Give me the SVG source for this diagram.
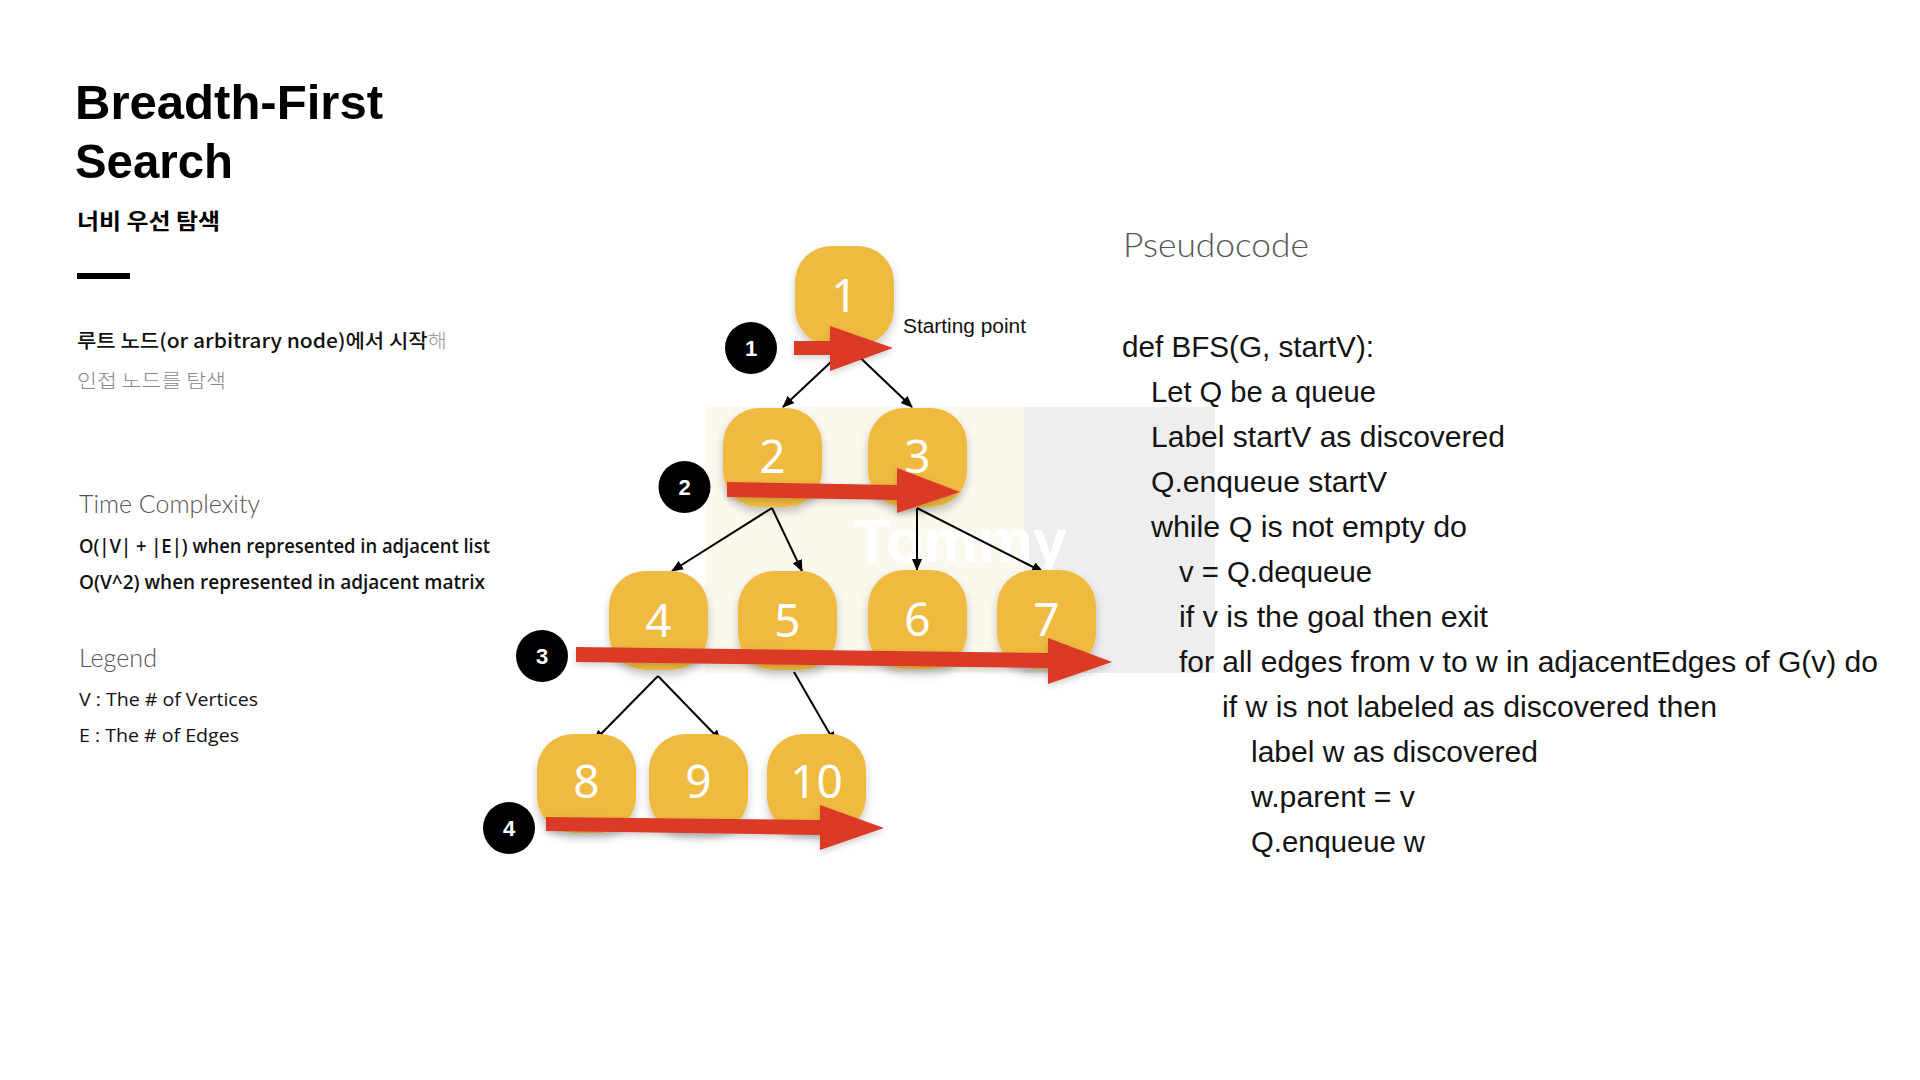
<svg xmlns="http://www.w3.org/2000/svg" width="1920" height="1080" viewBox="0 0 1920 1080">
<defs>
<style>
.node rect{fill:#EEBA41;filter:url(#sh);}
.node text{fill:#fff;font-family:"Noto Sans","Open Sans",sans-serif;font-size:46px;text-anchor:middle;}
.edge{stroke:#000;stroke-width:2;fill:none;marker-end:url(#ah);}
.red{fill:#DB3A26;filter:url(#sh2);}
.mk circle{fill:#000;}
.mk text{fill:#fff;font-family:"Liberation Sans",sans-serif;font-weight:bold;font-size:22px;text-anchor:middle;}
.code{font-family:"Liberation Sans",sans-serif;font-size:29px;fill:#141414;}
.light{font-family:"Lato","Roboto",sans-serif;font-weight:300;fill:#555;}
.semi{font-family:"Open Sans","Liberation Sans",sans-serif;font-weight:600;font-size:19px;fill:#111;}
.reg{font-family:"Open Sans","Liberation Sans",sans-serif;font-weight:400;font-size:19px;fill:#111;}
</style>
<filter id="sh" x="-30%" y="-30%" width="160%" height="170%">
<feDropShadow dx="0" dy="5" stdDeviation="4" flood-color="#000" flood-opacity="0.22"/>
</filter>
<filter id="sh2" x="-10%" y="-50%" width="120%" height="200%">
<feDropShadow dx="0" dy="3" stdDeviation="3" flood-color="#000" flood-opacity="0.18"/>
</filter>
<marker id="ah" markerUnits="userSpaceOnUse" markerWidth="12" markerHeight="10" refX="11" refY="5" orient="auto">
<path d="M0,0 L12,5 L0,10 z" fill="#000"/>
</marker>
</defs>
<rect width="1920" height="1080" fill="#fff"/>

<g id="left-panel">
<text x="75" y="119" font-family="Liberation Sans, sans-serif" font-weight="bold" font-size="49" fill="#000" textLength="308" lengthAdjust="spacingAndGlyphs">Breadth-First</text>
<text x="75" y="178" font-family="Liberation Sans, sans-serif" font-weight="bold" font-size="49" fill="#000" textLength="158" lengthAdjust="spacingAndGlyphs">Search</text>
<text x="77" y="229" font-family="Noto Sans CJK KR, sans-serif" font-weight="bold" font-size="22" fill="#000" textLength="143" lengthAdjust="spacingAndGlyphs">너비 우선 탐색</text>
<rect x="77" y="273" width="53" height="6" fill="#000"/>
<text x="77" y="348" font-family="Noto Sans CJK KR, sans-serif" font-size="19.5" textLength="370" lengthAdjust="spacingAndGlyphs"><tspan font-weight="500" fill="#111">루트 노드(or arbitrary node)에서 시작</tspan><tspan font-weight="300" fill="#999">해</tspan></text>
<text x="77" y="388" font-family="Noto Sans CJK KR, sans-serif" font-weight="300" font-size="19.5" fill="#888" textLength="149" lengthAdjust="spacingAndGlyphs">인접 노드를 탐색</text>
<text class="light" x="79" y="513" font-size="26" textLength="181" lengthAdjust="spacingAndGlyphs">Time Complexity</text>
<text class="semi" x="79" y="553" textLength="411" lengthAdjust="spacingAndGlyphs">O(|V| + |E|) when represented in adjacent list</text>
<text class="semi" x="79" y="589" textLength="406" lengthAdjust="spacingAndGlyphs">O(V^2) when represented in adjacent matrix</text>
<text class="light" x="79" y="667" font-size="26" textLength="78" lengthAdjust="spacingAndGlyphs">Legend</text>
<text class="reg" x="79" y="706" textLength="179" lengthAdjust="spacingAndGlyphs">V : The # of Vertices</text>
<text class="reg" x="79" y="742" textLength="160" lengthAdjust="spacingAndGlyphs">E : The # of Edges</text>
</g>

<g id="background">
<rect x="705" y="407" width="319" height="266" fill="#FBF8EE"/>
<rect x="1024" y="407" width="191" height="266" fill="#EEEEEE"/>
<text x="853" y="562" font-family="Liberation Sans, sans-serif" font-weight="bold" font-size="62" fill="#fff" textLength="214" lengthAdjust="spacingAndGlyphs">Tommy</text>
</g>

<g id="connectors">
<line class="edge" x1="848" y1="346" x2="783" y2="407"/>
<line class="edge" x1="848" y1="346" x2="912" y2="407"/>
<line class="edge" x1="772" y1="508" x2="672" y2="571"/>
<line class="edge" x1="772" y1="508" x2="802" y2="571"/>
<line class="edge" x1="917" y1="508" x2="917" y2="570"/>
<line class="edge" x1="917" y1="508" x2="1043" y2="572"/>
<line class="edge" x1="658" y1="676" x2="594" y2="741"/>
<line class="edge" x1="658" y1="676" x2="721" y2="741"/>
<line class="edge" x1="794" y1="672" x2="835" y2="743"/>
</g>

<g id="node-1" class="node"><rect x="795" y="246" width="99" height="99" rx="36"/><text x="844.5" y="312">1</text></g>
<g id="node-2" class="node"><rect x="723" y="408" width="99" height="99" rx="36"/><text x="772.5" y="473">2</text></g>
<g id="node-3" class="node"><rect x="868" y="408" width="99" height="99" rx="36"/><text x="917.5" y="473">3</text></g>
<g id="node-4" class="node"><rect x="609" y="571" width="99" height="99" rx="36"/><text x="658.5" y="637">4</text></g>
<g id="node-5" class="node"><rect x="738" y="571" width="99" height="99" rx="36"/><text x="787.5" y="637">5</text></g>
<g id="node-6" class="node"><rect x="868" y="570" width="99" height="99" rx="36"/><text x="917.5" y="636">6</text></g>
<g id="node-7" class="node"><rect x="997" y="570" width="99" height="99" rx="36"/><text x="1046.5" y="636">7</text></g>
<g id="node-8" class="node"><rect x="537" y="734" width="99" height="99" rx="36"/><text x="586.5" y="798">8</text></g>
<g id="node-9" class="node"><rect x="649" y="734" width="99" height="99" rx="36"/><text x="698.5" y="798">9</text></g>
<g id="node-10" class="node"><rect x="767" y="734" width="99" height="99" rx="36"/><text x="816.5" y="798">10</text></g>

<g id="traversal-arrows">
<polygon class="red" points="794,341 830,341 830,326 893,348 830,371 830,355 794,355"/>
<polygon class="red" points="727,482 897,485 897,468 960,492 897,513 897,500 727,497"/>
<polygon class="red" points="576,647 1048,653 1048,638 1112,662 1048,684 1048,668 576,662"/>
<polygon class="red" points="546,817 820,820 820,805 884,828 820,850 820,835 546,831"/>
</g>

<g id="step-1" class="mk"><circle cx="751" cy="348" r="26"/><text x="751" y="356">1</text></g>
<g id="step-2" class="mk"><circle cx="684.5" cy="487" r="26"/><text x="684.5" y="495">2</text></g>
<g id="step-3" class="mk"><circle cx="542" cy="656" r="26"/><text x="542" y="664">3</text></g>
<g id="step-4" class="mk"><circle cx="509" cy="828" r="26"/><text x="509" y="836">4</text></g>

<text x="903" y="333" font-family="Liberation Sans, sans-serif" font-size="20" fill="#111" textLength="123" lengthAdjust="spacingAndGlyphs">Starting point</text>

<g id="pseudocode">
<text class="light" x="1123" y="257" font-size="33" fill="#333" textLength="186" lengthAdjust="spacingAndGlyphs">Pseudocode</text>
<text class="code" x="1122" y="357" textLength="252" lengthAdjust="spacingAndGlyphs">def BFS(G, startV):</text>
<text class="code" x="1151" y="402" textLength="225" lengthAdjust="spacingAndGlyphs">Let Q be a queue</text>
<text class="code" x="1151" y="447" textLength="354" lengthAdjust="spacingAndGlyphs">Label startV as discovered</text>
<text class="code" x="1151" y="492" textLength="236" lengthAdjust="spacingAndGlyphs">Q.enqueue startV</text>
<text class="code" x="1151" y="537" textLength="316" lengthAdjust="spacingAndGlyphs">while Q is not empty do</text>
<text class="code" x="1179" y="582" textLength="193" lengthAdjust="spacingAndGlyphs">v = Q.dequeue</text>
<text class="code" x="1179" y="627" textLength="309" lengthAdjust="spacingAndGlyphs">if v is the goal then exit</text>
<text class="code" x="1179" y="672" textLength="699" lengthAdjust="spacingAndGlyphs">for all edges from v to w in adjacentEdges of G(v) do</text>
<text class="code" x="1222" y="717" textLength="495" lengthAdjust="spacingAndGlyphs">if w is not labeled as discovered then</text>
<text class="code" x="1251" y="762" textLength="287" lengthAdjust="spacingAndGlyphs">label w as discovered</text>
<text class="code" x="1251" y="807" textLength="164" lengthAdjust="spacingAndGlyphs">w.parent = v</text>
<text class="code" x="1251" y="852" textLength="174" lengthAdjust="spacingAndGlyphs">Q.enqueue w</text>
</g>
</svg>
